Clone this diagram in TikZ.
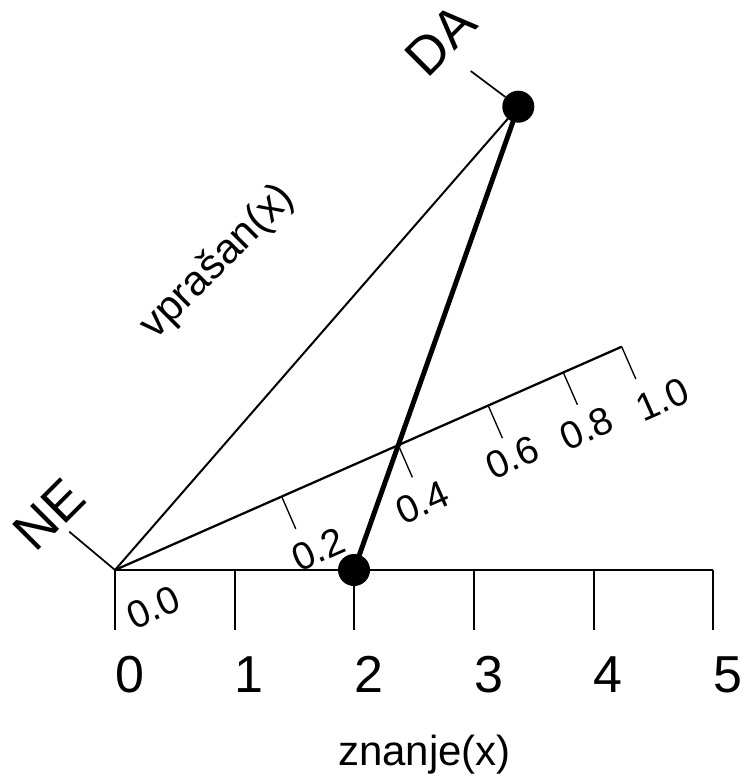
\documentclass[tikz,border=0pt]{standalone}
\usepackage{fontspec}
\setmainfont{Liberation Sans}
\begin{document}
\begin{tikzpicture}[x=0.75pt,y=-0.75pt,
  axisline/.style={line width=2pt},
  obline/.style={line width=1.7pt},
  thinline/.style={line width=1.5pt},
  thickline/.style={line width=3.7pt},
  htick/.style={line width=1.7pt},
  otick/.style={line width=1pt},
  leader/.style={line width=1.3pt},
  dot/.style={circle,fill=black,inner sep=0pt,minimum size=24pt},
  digit/.style={inner sep=0pt,anchor=base west,font=\fontsize{39}{39}\selectfont},
  olabel/.style={inner sep=0pt,rotate=23.8,font=\fontsize{29}{29}\selectfont},
  biglabel/.style={inner sep=0pt,rotate=45,font=\fontsize{40}{40}\selectfont},
  axlabel/.style={inner sep=0pt,font=\fontsize{31.5}{31.5}\selectfont}]
\useasboundingbox (0,0) rectangle (743,774);
% base points
\coordinate (O) at (115,570);
\coordinate (H5) at (713.3,570);
\coordinate (Q02) at (281.7,496.6);
\coordinate (Q04) at (398.3,445.1);
\coordinate (Q06) at (488.3,405.8);
\coordinate (Q08) at (563.3,372.4);
\coordinate (Q10) at (621.7,346.7);
\coordinate (NEl) at (69.3,531.7);
\coordinate (DAl) at (470.7,71);
% horizontal axis and ticks
\draw[axisline] (O) -- (H5);
\foreach \i in {0,...,5}{
  \coordinate (T\i) at ({115+119.67*\i},570);
  \draw[htick] (T\i) -- ++(0,60);
  \node[digit] (D\i) at ({115+119.67*\i},692) {\i};
}
% oblique axis and ticks
\draw[obline] (O) -- (Q10);
\foreach \q in {02,04,06,08,10}{
  \draw[otick] (Q\q) -- ++(14.1,32.3);
}
\node[olabel] (L00) at (153.5,607.5) {0.0};
\node[olabel] (L02) at (318.5,549) {0.2};
\node[olabel] (L04) at (422.5,502.5) {0.4};
\node[olabel] (L06) at (512.5,457.5) {0.6};
\node[olabel] (L08) at (586.7,428.3) {0.8};
\node[olabel] (L10) at (662.5,399) {1.0};
% points
\node[dot] (B) at (518.3,106.7) {};
\node[dot] (A) at (354,570) {};
\draw[thinline] (O) -- (B.center);
\draw[thickline] (A.center) -- (B.center);
% leaders and labels
\draw[leader] (NEl) -- (O);
\draw[leader] (DAl) -- (B);
\node[biglabel] (NE) at (49,514.5) {NE};
\node[biglabel] (DA) at (440.5,40) {DA};
\node[axlabel,rotate=45] (VP) at (218,262.5) {vprašan(x)};
\node[axlabel,anchor=base] (ZN) at (424.5,765) {znanje(x)};
\end{tikzpicture}
\end{document}
